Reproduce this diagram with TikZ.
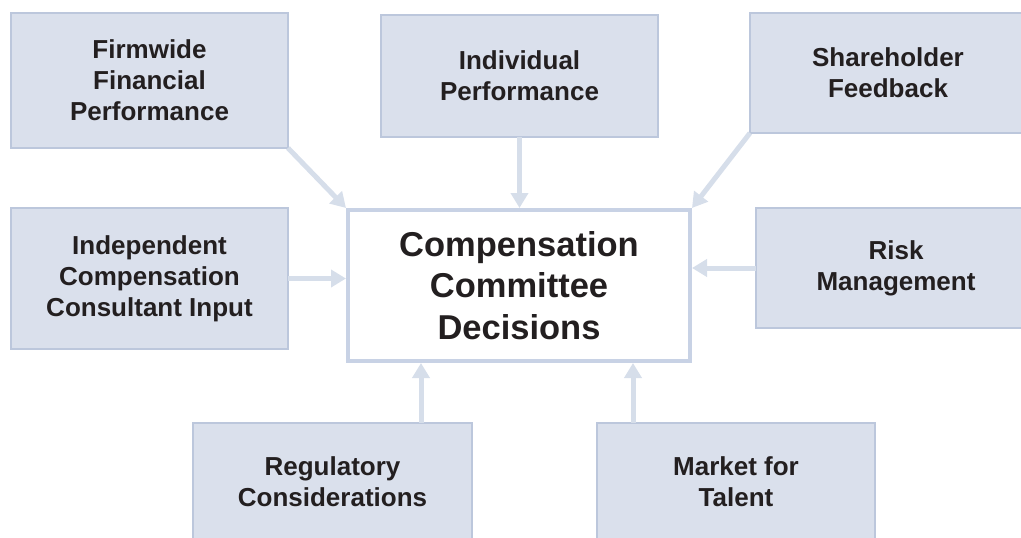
\documentclass[tikz,border=0pt]{standalone}
\usepackage{fontspec}
\setmainfont{Liberation Sans}
\usetikzlibrary{arrows.meta,calc}
\definecolor{boxfill}{HTML}{DAE0EC}
\definecolor{boxline}{HTML}{BCC7DC}
\definecolor{arrowcol}{HTML}{D6DEEA}
\definecolor{mainline}{HTML}{C8D2E5}
\definecolor{txt}{HTML}{231F20}
\begin{document}
\begin{tikzpicture}[x=1pt,y=-1pt,
  factor/.style={draw=boxline,fill=boxfill,line width=2pt,inner sep=0pt,outer sep=0pt,
    align=center,text=txt,font=\fontsize{26}{31}\selectfont\bfseries},
  mainbox/.style={draw=mainline,fill=white,line width=4pt,inner sep=0pt,outer sep=2pt,
    align=center,text=txt,font=\fontsize{34.5}{41.5}\selectfont\bfseries,
    minimum width=342pt,minimum height=151pt},
  feed/.style={draw=arrowcol,line width=5pt,-{Triangle[width=17pt,length=15pt]}}]
\useasboundingbox (0,0) rectangle (1021,538);
\clip (0,0) rectangle (1021,538);
\node[mainbox] (cc) at (519,285.5) {Compensation\\Committee\\Decisions};
\node[factor,minimum width=277pt,minimum height=135pt] (firm) at (149.5,80.5) {Firmwide\\Financial\\Performance};
\node[factor,minimum width=277pt,minimum height=122pt] (indiv) at (519.5,76) {Individual\\Performance};
\node[factor,minimum width=280pt,minimum height=120pt] (share) at (890,73) {\hspace*{-4pt}Shareholder\\\hspace*{-4pt}Feedback};
\node[factor,minimum width=277pt,minimum height=141pt] (indep) at (149.5,278.5) {Independent\\Compensation\\Consultant Input};
\node[factor,minimum width=272pt,minimum height=120pt] (risk) at (892,268) {\hspace*{8pt}Risk\\\hspace*{8pt}Management};
\node[factor,minimum width=279pt,minimum height=118pt] (reg) at (332.5,482) {Regulatory\\Considerations};
\node[factor,minimum width=278pt,minimum height=118pt] (mkt) at (736,482) {Market for\\Talent};
\coordinate (regtop) at (421,423);
\coordinate (mkttop) at (633,423);
\draw[feed] (firm.south east) -- (cc.north west);
\draw[feed] (indiv.south) -- (indiv.south |- cc.north);
\draw[feed] (share.south west) -- (cc.north east);
\draw[feed] (indep.east) -- (indep.east -| cc.west);
\draw[feed] (risk.west) -- (risk.west -| cc.east);
\draw[feed] (regtop) -- (regtop |- cc.south);
\draw[feed] (mkttop) -- (mkttop |- cc.south);
\end{tikzpicture}
\end{document}
